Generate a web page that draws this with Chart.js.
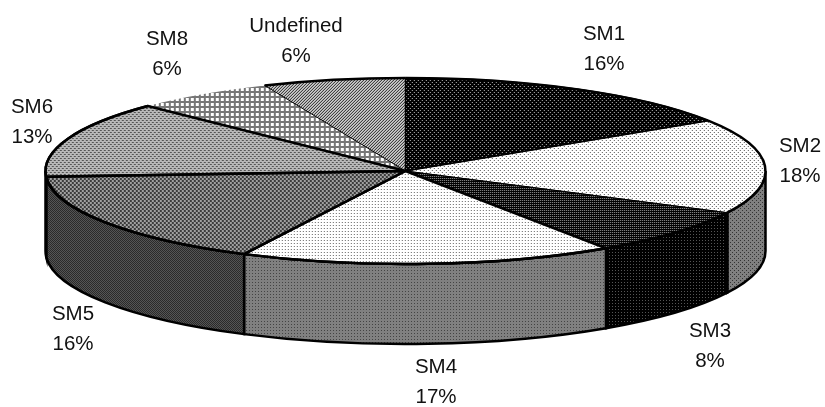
<!DOCTYPE html>
<html>
<head>
<meta charset="utf-8">
<style>
  html, body { margin: 0; padding: 0; background: #fff; }
  canvas { display: block; }
</style>
<script src="https://cdn.jsdelivr.net/npm/chart.js@4/dist/chart.umd.min.js"></script>
</head>
<body>
<canvas id="pie3d" width="825" height="407"></canvas>
<script>
const categories = ["SM1", "SM2", "SM3", "SM4", "SM5", "SM6", "SM8", "Undefined"];
// percentages as printed next to each slice
const printedPercent = ["16%", "18%", "8%", "17%", "16%", "13%", "6%", "6%"];
// wedge sizes (SM2 and SM5 are drawn a bit off their printed share)
const wedgeShare = [15.9, 16.5, 8.2, 16.8, 16.6, 13.3, 6.3, 6.4];

// look of the tilted disc
const RX = 360, RY = 93, CX = 405.5, CY = 171, DEPTH = 80;

const ctx = document.getElementById("pie3d").getContext("2d");

function tile(rows, colors) {
  const c = document.createElement("canvas");
  c.width = rows[0].length;
  c.height = rows.length;
  const g = c.getContext("2d");
  rows.forEach((row, y) => {
    [...row].forEach((ch, x) => {
      g.fillStyle = colors[ch];
      g.fillRect(x, y, 1, 1);
    });
  });
  return ctx.createPattern(c, "repeat");
}

const dots = ["o...", "....", "..o.", "...."];
const fine = ["o..", "...", "..."];
const check = ["aabb", "aabb", "bbaa", "bbaa"];

const topFills = [
  tile(dots, { ".": "#000", o: "#bbb" }),
  tile(dots, { ".": "#fff", o: "#555" }),
  tile(["o.", ".."], { ".": "#000", o: "#999" }),
  tile(fine, { ".": "#fff", o: "#666" }),
  tile(check, { a: "#3c3c3c", b: "#a0a0a0" }),
  tile(["aabb", "bbbb", "bbaa", "bbbb"], { a: "#555", b: "#b8b8b8" }),
  tile(["wwwgg", "wwwgg", "wwwgg", "ggggg", "ggggg"], { w: "#fff", g: "#777" }),
  tile(["..x", ".x.", "x.."], { ".": "#ccc", x: "#222" }),
];
const wallFills = {
  1: tile(dots, { ".": "#808080", o: "#333" }),
  2: tile(fine, { ".": "#000", o: "#555" }),
  3: tile(fine, { ".": "#808080", o: "#444" }),
  4: tile(["ab", "ba"], { a: "#2a2a2a", b: "#555" }),
};

const wedgePath = (arc) => {
  ctx.beginPath();
  ctx.moveTo(CX, CY);
  ctx.ellipse(CX, CY, RX, RY, 0, arc.startAngle, arc.endAngle);
  ctx.closePath();
};

const pie3d = {
  id: "pie3d",
  beforeDatasetsDraw(chart) {
    const arcs = chart.getDatasetMeta(0).data;
    const sx = RX / arcs[0].outerRadius, sy = RY / arcs[0].outerRadius;

    // side wall, only the part of each slice facing the viewer
    ctx.save();
    ctx.strokeStyle = "#000";
    ctx.lineWidth = 2.5;
    arcs.forEach((arc, i) => {
      const a = Math.max(arc.startAngle, 0), b = Math.min(arc.endAngle, Math.PI);
      if (b <= a) return;
      ctx.beginPath();
      ctx.ellipse(CX, CY, RX, RY, 0, a, b);
      ctx.ellipse(CX, CY + DEPTH, RX, RY, 0, b, a, true);
      ctx.closePath();
      ctx.fillStyle = wallFills[i];
      ctx.fill();
      ctx.stroke();
    });
    ctx.restore();

    // patterns must stay square once the disc is squashed
    topFills.forEach((p) => p.setTransform(new DOMMatrix().scale(1 / sx, 1 / sy)));
    ctx.save();
    ctx.translate(CX, CY);
    ctx.scale(sx, sy);
    ctx.translate(-arcs[0].x, -arcs[0].y);
  },
  afterDatasetsDraw(chart) {
    ctx.restore();
    const arcs = chart.getDatasetMeta(0).data;
    const edge = [1.5, 1, 1, 2.5, 2.5, 2.5, 0, 1];
    ctx.save();
    ctx.strokeStyle = "#000";
    ctx.lineJoin = "round";
    arcs.forEach((arc, i) => {
      if (!edge[i]) return;
      ctx.lineWidth = edge[i];
      wedgePath(arc);
      ctx.stroke();
    });
    // the rim is heavier than the spokes
    ctx.lineWidth = 2.5;
    [0, 1, 2, 3, 4, 5, 7].forEach((i) => {
      ctx.beginPath();
      ctx.ellipse(CX, CY, RX, RY, 0, arcs[i].startAngle, arcs[i].endAngle);
      ctx.stroke();
    });
    ctx.restore();

    const spots = [[604, 34], [800, 146], [710, 331], [436, 367], [73, 314], [32, 107], [167, 39], [296, 26]];
    ctx.save();
    ctx.fillStyle = "#111";
    ctx.font = '20.5px "Liberation Sans"';
    ctx.textAlign = "center";
    ctx.textBaseline = "middle";
    categories.forEach((name, i) => {
      ctx.fillText(name, spots[i][0], spots[i][1]);
      ctx.fillText(printedPercent[i], spots[i][0], spots[i][1] + 30);
    });
    ctx.restore();
  },
};

new Chart(ctx, {
  type: "pie",
  data: {
    labels: categories,
    datasets: [
      {
        data: wedgeShare,
        backgroundColor: topFills,
        borderWidth: 0,
        clip: false,
      },
    ],
  },
  options: {
    responsive: false,
    devicePixelRatio: 1,
    animation: false,
    events: [],
    plugins: {
      legend: { display: false },
      tooltip: { enabled: false },
    },
  },
  plugins: [pie3d],
});
</script>
</body>
</html>
